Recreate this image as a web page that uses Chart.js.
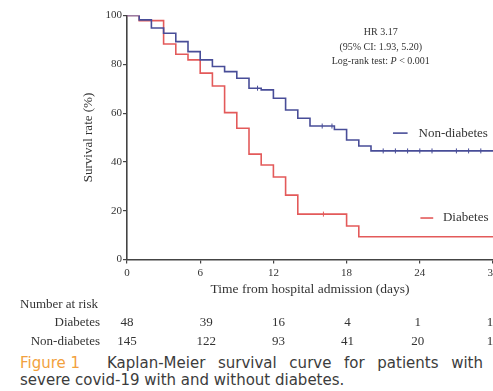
<!DOCTYPE html>
<html>
<head>
<meta charset="utf-8">
<script src="https://cdn.jsdelivr.net/npm/chart.js@4.4.0/dist/chart.umd.min.js"></script>
<style>
  html, body { margin: 0; padding: 0; background: #fff; overflow: hidden; width: 493px; height: 391px; }
  #wrap { position: absolute; left: 0; top: 0; width: 560px; height: 350px; }
  .cap {
    position: absolute; font-family: "DejaVu Sans", sans-serif; font-size: 15px; line-height: 17px;
    color: #3c3c3c; white-space: nowrap;
  }
  #fig { left: 20px; top: 355px; color: #f2a13e; }
  #cap1 { left: 107px; top: 355px; width: 376px; white-space: normal; text-align: justify; text-align-last: justify; }
  #cap2 { left: 20px; top: 372px; }
</style>
</head>
<body>
<div id="wrap"><canvas id="km" width="560" height="350"></canvas></div>
<div class="cap" id="fig">Figure 1</div>
<div class="cap" id="cap1">Kaplan-Meier survival curve for patients with</div>
<div class="cap" id="cap2">severe covid-19 with and without diabetes.</div>
<script>
// Kaplan-Meier estimates (survival %, step changes at each day)
const nonDiabetesTimes = [0, 1, 2, 3, 4, 5, 6, 7, 8, 9, 10, 11, 12, 13, 14, 15, 17, 18, 19, 20, 34];
const nonDiabetesSurv  = [100, 98.2, 94.9, 92.7, 89.3, 85.2, 81.8, 79.1, 77.0, 74.3, 70.2, 69.5, 66.1, 61.3, 57.9, 54.7, 53.3, 49.0, 46.5, 44.5, 44.5];
const diabetesTimes = [0, 1, 3, 4, 5, 6, 7, 8, 9, 10, 11, 12, 13, 14, 18, 19, 34];
const diabetesSurv  = [100, 97.9, 88.3, 84.1, 81.8, 76.4, 71.1, 60.2, 53.8, 43.2, 38.7, 33.8, 26.4, 18.6, 13.7, 9.3, 9.3];

// Censoring times (days)
const nonDiabetesCensored = [10.7, 16, 16.8, 21, 22, 23, 24, 25, 27, 28, 29];
const diabetesCensored = [16.1];

// Number at risk table
const riskDays = [0, 6, 12, 18, 24, 30];
const riskDiabetes = [48, 39, 16, 4, 1, 1];
const riskNonDiabetes = [145, 122, 93, 41, 20, 1];

// Axis ticks
const xTickStep = 6;
const yTickStep = 20;

// small horizontal nudges (px) for the risk-table columns
const riskColumnNudge = [0, 6, 5, 1, -2, -3];

const BLUE = '#484d98';
const RED = '#e35a5a';
const INK = '#333333';
const SERIF = '"Liberation Serif", "Times New Roman", serif';

function toPoints(times, surv) {
  return times.map((t, i) => ({ x: t, y: surv[i] }));
}
function survAt(times, surv, t) {
  let v = surv[0];
  for (let i = 0; i < times.length; i++) { if (times[i] <= t) v = surv[i]; }
  return v;
}
function censorPoints(cens, times, surv) {
  return cens.map(t => ({ x: t, y: survAt(times, surv, t) }));
}

const overlay = {
  id: 'kmOverlay',
  afterDraw(chart) {
    const { ctx, scales: { x, y } } = chart;
    ctx.save();
    ctx.fillStyle = INK;
    ctx.textBaseline = 'middle';

    // hazard ratio block
    const cx = x.getPixelForValue(20.8);
    ctx.font = '10px ' + SERIF;
    ctx.textAlign = 'center';
    ctx.fillText('HR 3.17', cx, y.getPixelForValue(93.2));
    ctx.fillText('(95% CI: 1.93, 5.20)', cx, y.getPixelForValue(87.1));
    const parts = [['Log-rank test: ', 'normal'], ['P', 'italic'], [' < 0.001', 'normal']];
    let total = 0;
    parts.forEach(p => { ctx.font = p[1] + ' 10px ' + SERIF; total += ctx.measureText(p[0]).width; });
    let px = cx - total / 2;
    ctx.textAlign = 'left';
    const ly = y.getPixelForValue(81.0);
    parts.forEach(p => { ctx.font = p[1] + ' 10px ' + SERIF; ctx.fillText(p[0], px, ly); px += ctx.measureText(p[0]).width; });

    // series labels
    ctx.font = '13px ' + SERIF;
    ctx.lineWidth = 1.6;
    const legendItems = [
      { text: 'Non-diabetes', color: BLUE, x0: 21.8, x1: 23.0, tx: 23.9, v: 51.8 },
      { text: 'Diabetes', color: RED, x0: 24.05, x1: 25.1, tx: 25.9, v: 17.0 }
    ];
    legendItems.forEach(it => {
      const yy = y.getPixelForValue(it.v);
      ctx.strokeStyle = it.color;
      ctx.beginPath();
      ctx.moveTo(x.getPixelForValue(it.x0), yy);
      ctx.lineTo(x.getPixelForValue(it.x1), yy);
      ctx.stroke();
      ctx.fillText(it.text, x.getPixelForValue(it.tx), yy);
    });

    // number at risk
    ctx.font = '13px ' + SERIF;
    ctx.textAlign = 'left';
    ctx.fillText('Number at risk', 20, 305);
    ctx.textAlign = 'right';
    ctx.fillText('Diabetes', 100, 323);
    ctx.fillText('Non-diabetes', 100, 342);
    ctx.textAlign = 'center';
    riskDays.forEach((d, i) => {
      const xx = x.getPixelForValue(d) + riskColumnNudge[i];
      ctx.fillText(String(riskDiabetes[i]), xx, 323);
      ctx.fillText(String(riskNonDiabetes[i]), xx, 342);
    });
    ctx.restore();
  }
};

const axisGrid = { drawOnChartArea: false, drawTicks: true, tickLength: 4, color: '#444', lineWidth: 1.2 };
const axisBorder = { color: '#444', width: 1.6 };

new Chart(document.getElementById('km'), {
  type: 'line',
  data: {
    datasets: [
      { label: 'Non-diabetes', data: toPoints(nonDiabetesTimes, nonDiabetesSurv), borderColor: BLUE,
        borderWidth: 1.6, stepped: 'before', pointRadius: 0, fill: false },
      { label: 'Non-diabetes censored', data: censorPoints(nonDiabetesCensored, nonDiabetesTimes, nonDiabetesSurv),
        showLine: false, pointStyle: 'line', rotation: 90, pointRadius: 2.5, borderColor: BLUE, borderWidth: 1 },
      { label: 'Diabetes', data: toPoints(diabetesTimes, diabetesSurv), borderColor: RED,
        borderWidth: 1.6, stepped: 'before', pointRadius: 0, fill: false },
      { label: 'Diabetes censored', data: censorPoints(diabetesCensored, diabetesTimes, diabetesSurv),
        showLine: false, pointStyle: 'line', rotation: 90, pointRadius: 2.5, borderColor: RED, borderWidth: 1 }
    ]
  },
  options: {
    responsive: false,
    animation: false,
    devicePixelRatio: 1,
    layout: { padding: { left: 77, top: 15.5, right: 67, bottom: 52.5 } },
    plugins: { legend: { display: false }, tooltip: { enabled: false } },
    scales: {
      x: {
        type: 'linear', min: 0, max: 30,
        ticks: { stepSize: xTickStep, font: { family: SERIF, size: 11 }, color: INK, padding: 3 },
        grid: axisGrid, border: axisBorder,
        title: { display: true, text: 'Time from hospital admission (days)', font: { family: SERIF, size: 13.5 }, color: INK, padding: { top: 0, bottom: 0 } },
        afterFit(s) { s.height = 38; }
      },
      y: {
        type: 'linear', min: 0, max: 100,
        ticks: { stepSize: yTickStep, font: { family: SERIF, size: 11 }, color: INK, padding: 1 },
        grid: axisGrid, border: axisBorder,
        title: { display: true, text: 'Survival rate (%)', font: { family: SERIF, size: 13 }, color: INK, padding: { top: 4, bottom: 0 } },
        afterFit(s) { s.width = 50; }
      }
    }
  },
  plugins: [overlay]
});
</script>
</body>
</html>
